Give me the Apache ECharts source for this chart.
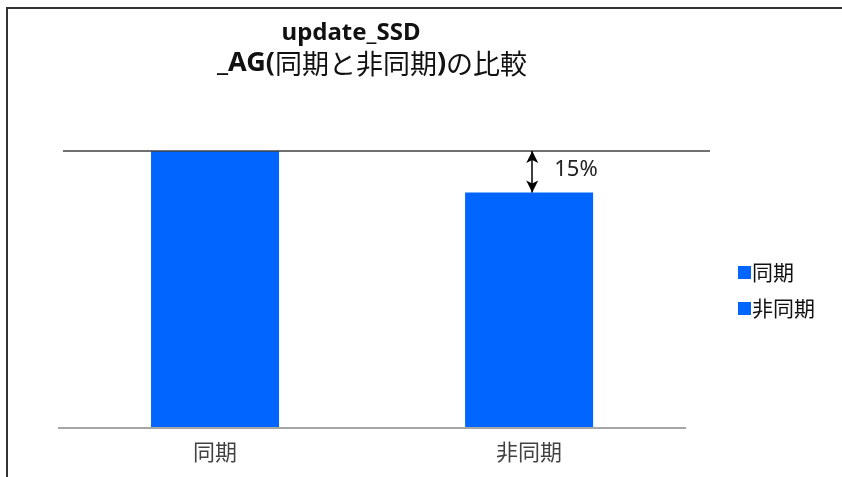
<!DOCTYPE html>
<html>
<head>
<meta charset="utf-8">
<script src="https://cdn.jsdelivr.net/npm/echarts@6/dist/echarts.min.js"></script>
<style>html,body{margin:0;padding:0;background:#fff}#c{width:842px;height:477px}</style>
</head>
<body>
<div id="c"></div>
<script>
const categories = ['同期', '非同期'];
const seriesNames = ['同期', '非同期'];
const values = [100, 85];
const titleLine1 = 'update_SSD';
const diffPct = Math.round((values[0] - values[1]) / values[0] * 100) + '%';

const BLUE = '#0066FF';
const latin = '"Noto Sans", "Noto Sans CJK JP", sans-serif';
const cjk = '"Noto Sans CJK JP", "Noto Sans", sans-serif';

const chart = echarts.init(document.getElementById('c'));
chart.setOption({
  backgroundColor: '#fff',
  animation: false,
  graphic: [{
    type: 'rect', shape: { x: 7, y: 8, width: 1000, height: 700 },
    style: { fill: 'none', stroke: '#333', lineWidth: 2 }, silent: true
  }],
  title: [
    { text: titleLine1, left: 346, top: 16, textAlign: 'center',
      textStyle: { fontFamily: latin, fontWeight: 'bold', fontSize: 24, color: '#111' } },
    { text: '{b|_AG(}{n|同期と非同期}{b|)}{n|の比較}', left: 367, top: 45, textAlign: 'center',
      textStyle: { rich: {
        b: { fontFamily: latin, fontWeight: 'bold', fontSize: 27, color: '#111' },
        n: { fontFamily: cjk, fontWeight: 'normal', fontSize: 27, color: '#111' }
      } } }
  ],
  legend: {
    data: seriesNames, orient: 'vertical', left: 733, top: 257, itemGap: 15,
    icon: 'rect', itemWidth: 13, itemHeight: 13,
    textStyle: { fontFamily: cjk, fontSize: 21, color: '#111', padding: [0, 0, 0, -4] }
  },
  grid: { left: 58, right: 132, top: 151, bottom: 49 },
  xAxis: { type: 'value', min: -0.5, max: 1.576, show: false },
  yAxis: { type: 'value', min: 0, max: 100, show: false },
  series: [
    { name: seriesNames[0], type: 'bar', barWidth: 128, barGap: '-100%',
      itemStyle: { color: BLUE }, data: [[0, values[0]]],
      markLine: { silent: true, symbol: 'none', label: { show: false },
        data: [
          [{ coord: [-0.5, 0], lineStyle: { color: '#a6a6a6', width: 2, type: 'solid' } }, { coord: [1.5, 0] }],
          [{ coord: [-0.484, values[0]], lineStyle: { color: '#404040', width: 1.5, type: 'solid' } }, { coord: [1.576, values[0]] }]
        ] } },
    { name: seriesNames[1], type: 'bar', barWidth: 128, barGap: '-100%',
      itemStyle: { color: BLUE }, data: [[1, values[1]]],
      markLine: { silent: true, symbol: ['arrow', 'arrow'], symbolSize: [9, 12], label: { show: false },
        lineStyle: { color: '#000', width: 1.5, type: 'solid' },
        data: [[{ coord: [1.01, values[0]] }, { coord: [1.01, values[1]] }]] },
      markPoint: { silent: true, symbolSize: 0,
        data: [{ coord: [1.01, (values[0] + values[1]) / 2 + 0.8], value: diffPct }],
        label: { show: true, position: 'right', distance: 22, formatter: diffPct,
          fontFamily: latin, fontSize: 22, color: '#222' } } },
    { type: 'scatter', symbolSize: 0, silent: true,
      data: categories.map((c, i) => ({ value: [i, 0], name: c })),
      label: { show: true, position: 'bottom', distance: 13, formatter: p => p.name,
        fontFamily: cjk, fontSize: 22, color: '#111' } }
  ]
});
</script>
</body>
</html>
